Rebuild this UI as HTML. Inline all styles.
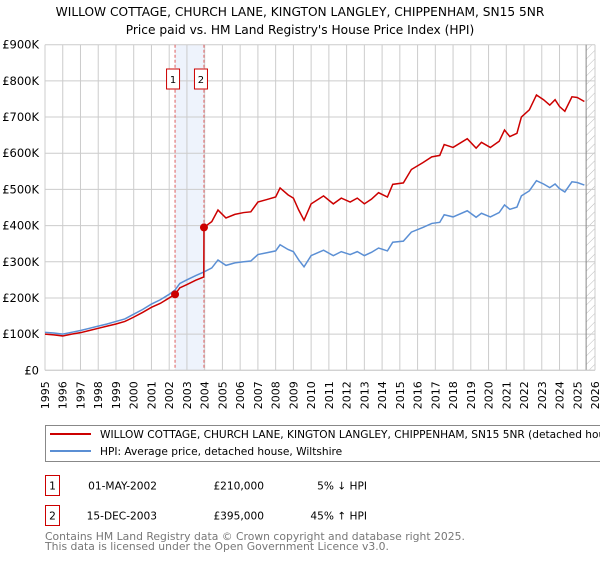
<!DOCTYPE html>
<html><head><meta charset="utf-8"><style>
body{margin:0;background:#fff;font-family:"DejaVu Sans","Liberation Sans",sans-serif;}
</style></head><body>
<svg width="600" height="560" xmlns="http://www.w3.org/2000/svg" font-family="DejaVu Sans, Liberation Sans, sans-serif">
<defs><pattern id="hatch" width="6" height="6" patternUnits="userSpaceOnUse" patternTransform="rotate(45)"><line x1="0" y1="0" x2="0" y2="6" stroke="#bbb" stroke-width="1"/></pattern></defs>
<text x="300" y="16" text-anchor="middle" font-size="12.2">WILLOW COTTAGE, CHURCH LANE, KINGTON LANGLEY, CHIPPENHAM, SN15 5NR</text>
<text x="300" y="34" text-anchor="middle" font-size="12.2">Price paid vs. HM Land Registry's House Price Index (HPI)</text>
<g id="plot"></g>
<rect x="45.5" y="425.5" width="570" height="36" fill="#fff" stroke="#888"/>
<line x1="50" y1="434" x2="91" y2="434" stroke="#cc0000" stroke-width="2"/>
<text x="100" y="437.8" font-size="10.6">WILLOW COTTAGE, CHURCH LANE, KINGTON LANGLEY, CHIPPENHAM, SN15 5NR (detached house)</text>
<line x1="50" y1="451" x2="91" y2="451" stroke="#5b8fd4" stroke-width="2"/>
<text x="100" y="454.8" font-size="10.6">HPI: Average price, detached house, Wiltshire</text>
<g font-size="10.6">
<rect x="45.5" y="475.5" width="14" height="20" fill="#fff" stroke="#cc0000"/>
<text x="52.5" y="489.5" text-anchor="middle">1</text>
<text x="157" y="489.5" text-anchor="end">01-MAY-2002</text>
<text x="264" y="489.5" text-anchor="end">£210,000</text>
<text x="367" y="489.5" text-anchor="end">5% ↓ HPI</text>
<rect x="45.5" y="505.5" width="14" height="20" fill="#fff" stroke="#cc0000"/>
<text x="52.5" y="519.5" text-anchor="middle">2</text>
<text x="157" y="519.5" text-anchor="end">15-DEC-2003</text>
<text x="264" y="519.5" text-anchor="end">£395,000</text>
<text x="367" y="519.5" text-anchor="end">45% ↑ HPI</text>
</g>
<text x="45" y="540" font-size="10.8" fill="#777">Contains HM Land Registry data © Crown copyright and database right 2025.</text>
<text x="45" y="550" font-size="10.8" fill="#777">This data is licensed under the Open Government Licence v3.0.</text>
</svg>
<script>
const hpiDates=[1995.0,1995.5,1996.0,1996.5,1997.0,1997.5,1998.0,1998.5,1999.0,1999.5,2000.0,2000.5,2001.0,2001.5,2002.0,2002.33,2002.6,2003.0,2003.5,2003.96,2004.4,2004.75,2005.2,2005.7,2006.2,2006.6,2007.0,2007.5,2008.0,2008.25,2008.7,2009.0,2009.3,2009.6,2010.0,2010.7,2011.25,2011.7,2012.2,2012.6,2013.0,2013.4,2013.8,2014.3,2014.6,2015.2,2015.65,2016.3,2016.8,2017.25,2017.5,2018.0,2018.8,2019.3,2019.6,2020.1,2020.6,2020.9,2021.2,2021.6,2021.85,2022.3,2022.7,2023.1,2023.45,2023.75,2024.0,2024.3,2024.7,2025.0,2025.4];
const hpiValues=[105,103,100,105,110,116,122,128,135,142,155,168,183,195,210,222,240,250,262,272,283,305,290,297,300,302,320,325,330,347,334,328,305,286,317,332,317,328,320,328,317,326,338,330,354,357,382,395,406,409,430,424,441,423,434,424,436,457,445,451,482,496,524,515,505,515,502,493,521,519,512];
const priceDates=[1995.0,1995.5,1996.0,1996.5,1997.0,1997.5,1998.0,1998.5,1999.0,1999.5,2000.0,2000.5,2001.0,2001.5,2002.0,2002.33,2002.6,2003.0,2003.5,2003.95,2003.96,2004.4,2004.75,2005.2,2005.7,2006.2,2006.6,2007.0,2007.5,2008.0,2008.25,2008.7,2009.0,2009.3,2009.6,2010.0,2010.7,2011.25,2011.7,2012.2,2012.6,2013.0,2013.4,2013.8,2014.3,2014.6,2015.2,2015.65,2016.3,2016.8,2017.25,2017.5,2018.0,2018.8,2019.3,2019.6,2020.1,2020.6,2020.9,2021.2,2021.6,2021.85,2022.3,2022.7,2023.1,2023.45,2023.75,2024.0,2024.3,2024.7,2025.0,2025.4];
const priceValues=[100,98,95,100,104,110,116,122,128,135,147,160,174,185,200,210,228,237,249,258,395,411,443,421,431,436,438,465,472,479,504,485,476,443,415,460,482,460,476,465,476,460,473,491,479,514,518,555,574,590,594,624,616,640,614,630,616,633,664,646,655,700,720,761,748,733,748,729,716,756,754,743];
const saleDates=[2002.33,2003.96];
const salePrices=[210,395];
const saleLabels=["1","2"];
const yTicks=[0,100,200,300,400,500,600,700,800,900];
const yTickLabels=["£0","£100K","£200K","£300K","£400K","£500K","£600K","£700K","£800K","£900K"];
const xTicks=[1995,1996,1997,1998,1999,2000,2001,2002,2003,2004,2005,2006,2007,2008,2009,2010,2011,2012,2013,2014,2015,2016,2017,2018,2019,2020,2021,2022,2023,2024,2025,2026];

const L=45,R=595,T=44.7,B=370.3,X0=1995,X1=2026,YMAX=900;
const xs=v=>L+(v-X0)/(X1-X0)*(R-L);
const ys=v=>B-v/YMAX*(B-T);
const NS="http://www.w3.org/2000/svg";
const g=document.getElementById('plot');
function mk(t,a){const e=document.createElementNS(NS,t);for(const k in a)e.setAttribute(k,a[k]);g.appendChild(e);return e;}

const band=mk('rect',{x:xs(saleDates[0]),y:T,width:xs(saleDates[1])-xs(saleDates[0]),height:B-T,fill:'#eef3fc'});


const hatch=mk('rect',{x:xs(2025.5),y:T,width:R-xs(2025.5),height:B-T,fill:'url(#hatch)'});



xTicks.forEach((t,i)=>{
 const x=xs(t);
 const gl=mk('line',{x1:x,y1:T,x2:x,y2:B,stroke:'#ccc','stroke-width':1});
 
 
 const tx=mk('text',{x:0,y:0,'font-size':11,'text-anchor':'end',transform:`translate(${x+4},${B+11}) rotate(-90)`});
 tx.textContent=t;
 
 
});
yTicks.forEach((t,i)=>{
 const y=ys(t);
 const gl=mk('line',{x1:L,y1:y,x2:R,y2:y,stroke:'#ccc','stroke-width':1});
 
 
 const tx=mk('text',{x:L-6,y:y+4,'font-size':11.5,'text-anchor':'end'});
 tx.textContent=yTickLabels[i];
 
 
});
const vl=mk('line',{x1:xs(2025.5),y1:T,x2:xs(2025.5),y2:B,stroke:'#888','stroke-width':1});



const boxOff=[-2,-3];
saleDates.forEach((d,i)=>{
 const x=xs(d);
 const dl=mk('line',{x1:x,y1:T,x2:x,y2:B,stroke:'#e06060','stroke-width':1,'stroke-dasharray':'3,2'});
 
 
 const cx=x+boxOff[i];
 const bx=mk('rect',{x:cx-6.5,y:69,width:13,height:20,fill:'#fff',stroke:'#cc0000'});
 
 
 const bt=mk('text',{x:cx,y:83,'font-size':10,'text-anchor':'middle'});
 bt.textContent=saleLabels[i];
 
 
});

const hp=mk('polyline',{points:hpiDates.map((d,i)=>xs(d)+','+ys(hpiValues[i])).join(' '),fill:'none',stroke:'#5b8fd4','stroke-width':1.5});


const pp=mk('polyline',{points:priceDates.map((d,i)=>xs(d)+','+ys(priceValues[i])).join(' '),fill:'none',stroke:'#cc0000','stroke-width':1.5});


saleDates.forEach((d,i)=>{
 const c=mk('circle',{cx:xs(d),cy:ys(salePrices[i]),r:4,fill:'#cc0000'});
 
 
});
const ax=mk('line',{x1:L,y1:B,x2:R,y2:B,stroke:'#ccc'});


</script>
</body></html>
